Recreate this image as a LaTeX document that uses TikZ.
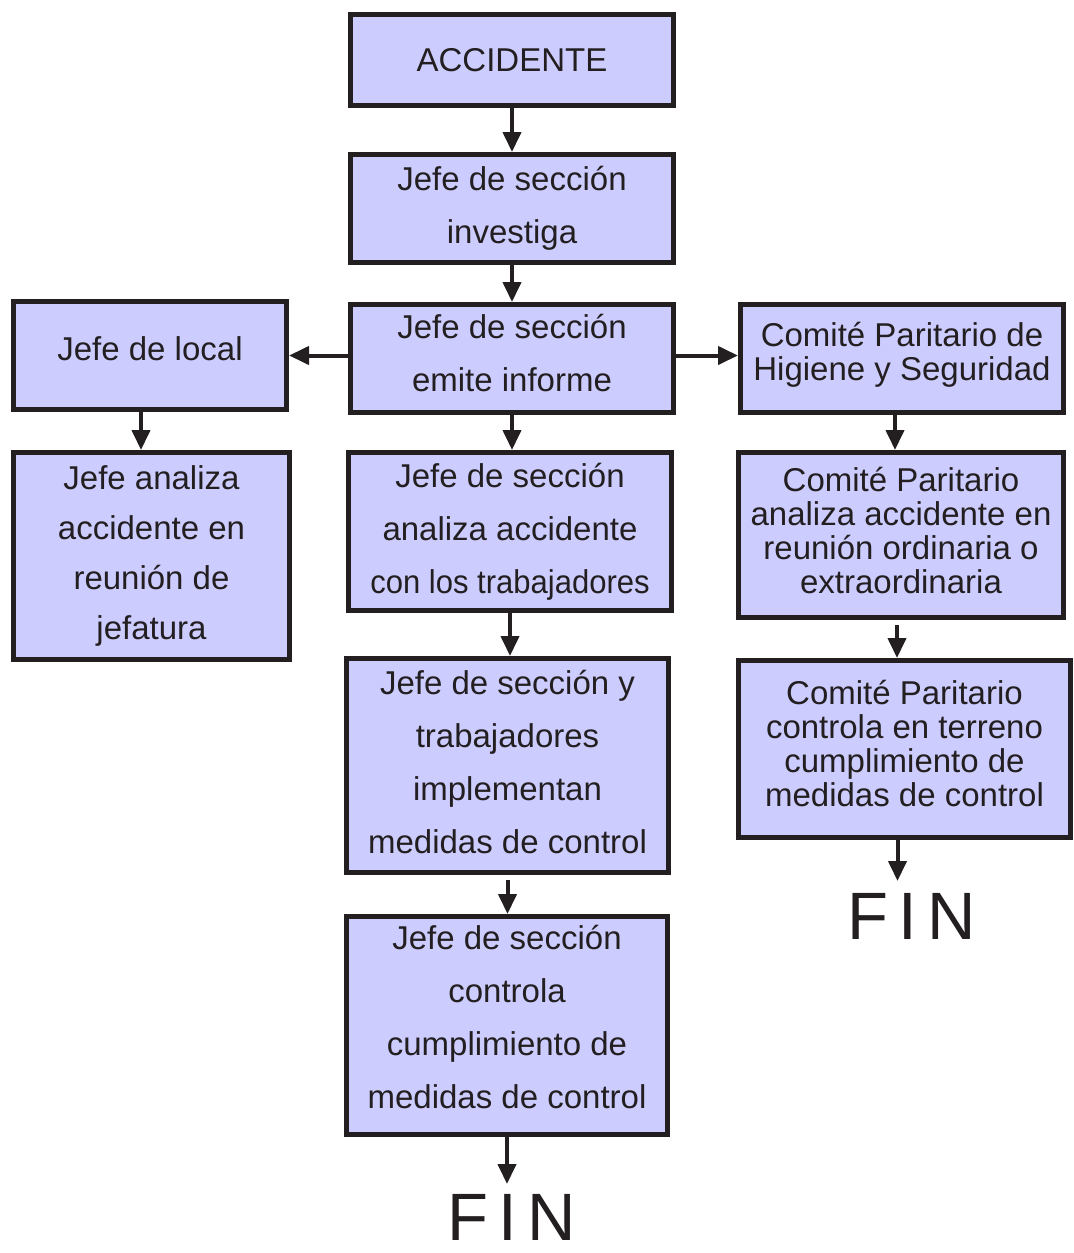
\documentclass[tikz,border=0pt]{standalone}
\usepackage{fontspec}
\setmainfont{Liberation Sans}
\newfontfamily\finfont[LetterSpace=15]{Liberation Sans}
\usetikzlibrary{arrows.meta}
\usetikzlibrary{positioning}
\definecolor{boxfill}{HTML}{CCCCFF}
\definecolor{ink}{HTML}{231F20}

\begin{document}
\begin{tikzpicture}[x=0.5pt,y=-0.5pt,
    paso/.style={draw=ink, fill=boxfill, line width=2.5pt, text=ink, align=center,
      inner sep=0pt, font=\fontsize{16.5}{26.5}\selectfont},
    comite/.style={paso, font=\fontsize{16.5}{17}\selectfont},
    flecha/.style={draw=ink, line width=2pt, -{Triangle[length=10pt,width=9pt]}},
    fin/.style={text=ink, inner sep=0pt, anchor=north, font=\finfont\fontsize{33.5}{33.5}\selectfont}]
  \useasboundingbox (0,0) rectangle (1074,1253);

  % columna central
  \node[paso, minimum width=161.5pt, minimum height=45.5pt] (acc) at (512,60) {ACCIDENTE};
  \node[paso, minimum width=161.5pt, minimum height=54pt] (inv) at (512,208.5) {Jefe de sección\\investiga};
  \node[paso, minimum width=161.5pt, minimum height=54pt] (inf) at (512,358.5)
    {Jefe de sección\\emite informe\rule[-6pt]{0pt}{0pt}};
  \node[paso, minimum width=161.5pt, minimum height=79pt] (san) at (510,531.5)
    {Jefe de sección\\analiza accidente\\\scalebox{0.94}[1]{con los trabajadores}};
  \node[paso, minimum width=161pt, minimum height=107pt] (imp) at (507.5,765.5)
    {Jefe de sección y\\trabajadores\\implementan\\medidas de control\rule[-4pt]{0pt}{0pt}};
  \node[paso, minimum width=160.5pt, minimum height=109pt] (ctl) at (507,1025.5)
    {Jefe de sección\\controla\\cumplimiento de\\medidas de control\rule[-9pt]{0pt}{0pt}};
  \node[fin] (fin2) at (512,1194) {FIN};

  % columna izquierda
  \node[paso, minimum width=136.5pt, minimum height=54pt] (loc) at (150,355.5)
    {Jefe de local\rule[-7pt]{0pt}{0pt}};
  \node[paso, minimum width=138pt, minimum height=103.5pt, font=\fontsize{16.5}{25}\selectfont] (jan) at (151.5,556)
    {Jefe analiza\\accidente en\\reunión de\\jefatura};

  % columna derecha
  \node[comite, minimum width=161.5pt, minimum height=54pt] (com) at (902,358.5)
    {Comité Paritario de\\Higiene y Seguridad\rule[-7pt]{0pt}{0pt}};
  \node[comite, minimum width=162.5pt, minimum height=82.5pt] (can) at (901,535)
    {Comité Paritario\\analiza accidente en\\reunión ordinaria o\\extraordinaria\rule[-5pt]{0pt}{0pt}};
  \node[comite, minimum width=166pt, minimum height=88.5pt] (cct) at (904.5,749)
    {Comité Paritario\\controla en terreno\\cumplimiento de\\medidas de control\rule[-6pt]{0pt}{0pt}};
  \node[fin] (fin1) at (912,893) {FIN};

  \draw[flecha] (acc.south) -- (inv.north);
  \draw[flecha] (inv.south) -- (inf.north);
  \draw[flecha] (inf.west |- loc) -- (loc.east);
  \draw[flecha] (inf.east |- loc) -- (com.west |- loc);
  \draw[flecha] ([xshift=-4.5pt]loc.south) -- ([xshift=-4.5pt]loc.south |- jan.north);
  \draw[flecha] (inf.south) -- (inf.south |- san.north);
  \draw[flecha] ([xshift=-3.5pt]com.south) -- ([xshift=-3.5pt]com.south |- can.north);
  \draw[flecha] (san.south) -- (san.south |- imp.north);
  \draw[flecha, shorten <=2.5pt] ([xshift=-2pt]can.south) -- ([xshift=-2pt]can.south |- cct.north);
  \draw[flecha, shorten <=2.5pt] (imp.south) -- (imp.south |- ctl.north);
  \draw[flecha, shorten >=6pt] ([xshift=-3.5pt]cct.south) -- ([xshift=-3.5pt]cct.south |- fin1.north);
  \draw[flecha, shorten >=5pt] (ctl.south) -- (ctl.south |- fin2.north);
\end{tikzpicture}
\end{document}
